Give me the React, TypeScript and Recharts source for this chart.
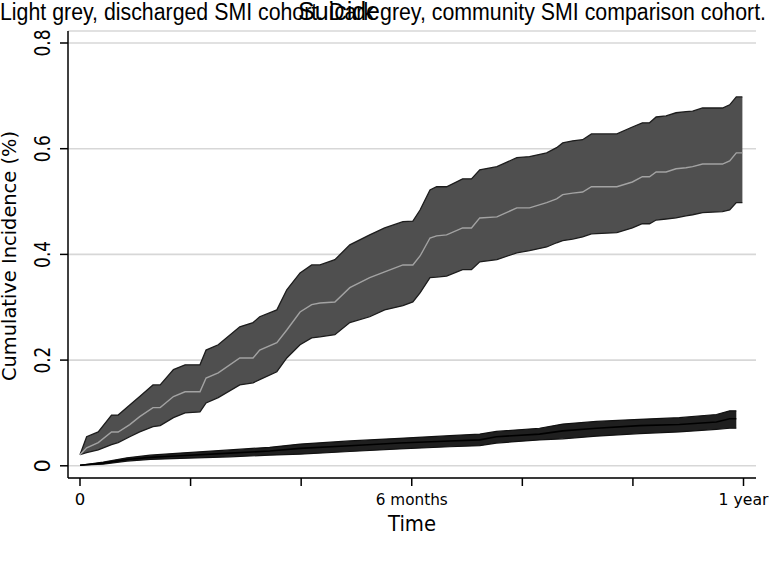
import { ComposedChart, Area, Line, XAxis, YAxis, CartesianGrid } from 'recharts';

// Time in months since discharge / index date
const dischargedMonths = [
  0, 0.12, 0.33, 0.57, 0.69, 0.9, 1.08, 1.32, 1.45, 1.69, 1.9, 2.17, 2.28, 2.5, 2.89, 3.13, 3.25, 3.56, 3.74,
  3.98, 4.19, 4.34, 4.61, 4.88, 5.24, 5.51, 5.84, 6.02, 6.15, 6.33, 6.45, 6.63, 6.92, 7.08, 7.23, 7.54, 7.9,
  8.13, 8.44, 8.62, 8.73, 8.91, 9.09, 9.25, 9.71, 9.99, 10.17, 10.3, 10.42, 10.6, 10.78, 10.96, 11.08, 11.26,
  11.62, 11.75, 11.87, 11.98,
];
const dischargedUpper = [
  0.021, 0.055, 0.064, 0.096, 0.096, 0.115, 0.131, 0.153, 0.153, 0.182, 0.191, 0.191, 0.219, 0.229, 0.263, 0.271,
  0.282, 0.295, 0.333, 0.365, 0.38, 0.38, 0.39, 0.418, 0.437, 0.45, 0.462, 0.463, 0.484, 0.522, 0.528, 0.528,
  0.543, 0.543, 0.56, 0.566, 0.583, 0.585, 0.592, 0.602, 0.611, 0.615, 0.617, 0.628, 0.628, 0.641, 0.649, 0.649,
  0.66, 0.662, 0.668, 0.67, 0.671, 0.677, 0.677, 0.683, 0.698, 0.698,
];
const dischargedEstimate = [
  0.021, 0.034, 0.044, 0.064, 0.064, 0.078, 0.093, 0.11, 0.11, 0.131, 0.14, 0.14, 0.166, 0.176, 0.204, 0.204,
  0.219, 0.233, 0.257, 0.291, 0.305, 0.308, 0.31, 0.337, 0.356, 0.367, 0.38, 0.38, 0.397, 0.431, 0.435, 0.437,
  0.45, 0.45, 0.469, 0.471, 0.488, 0.488, 0.498, 0.505, 0.513, 0.516, 0.518, 0.528, 0.528, 0.537, 0.547, 0.547,
  0.556, 0.556, 0.562, 0.564, 0.566, 0.571, 0.571, 0.577, 0.592, 0.592,
];
const dischargedLower = [
  0.021, 0.025, 0.03, 0.04, 0.044, 0.055, 0.064, 0.074, 0.076, 0.091, 0.1, 0.102, 0.119, 0.129, 0.153, 0.157,
  0.163, 0.178, 0.204, 0.229, 0.242, 0.244, 0.248, 0.271, 0.282, 0.295, 0.303, 0.31, 0.327, 0.356, 0.357, 0.359,
  0.371, 0.371, 0.386, 0.39, 0.403, 0.407, 0.414, 0.422, 0.426, 0.429, 0.433, 0.439, 0.441, 0.45, 0.458, 0.458,
  0.465, 0.467, 0.469, 0.473, 0.475, 0.479, 0.481, 0.484, 0.498, 0.498,
];

const communityMonths = [
  0, 0.42, 0.85, 1.27, 1.81, 2.71, 3.43, 3.98, 4.88, 5.78, 6.69, 7.23, 7.53, 8.31, 8.73, 9.34, 10.12, 10.84,
  11.51, 11.75, 11.87,
];
const communityUpper = [
  0.001, 0.007, 0.015, 0.02, 0.024, 0.03, 0.035, 0.041, 0.047, 0.052, 0.057, 0.06, 0.065, 0.071, 0.079, 0.084,
  0.088, 0.091, 0.097, 0.104, 0.104,
];
const communityEstimate = [
  0.001, 0.005, 0.012, 0.016, 0.019, 0.024, 0.028, 0.033, 0.038, 0.043, 0.047, 0.049, 0.055, 0.06, 0.066, 0.071,
  0.076, 0.078, 0.083, 0.089, 0.089,
];
const communityLower = [
  0.001, 0.003, 0.009, 0.012, 0.014, 0.017, 0.02, 0.022, 0.027, 0.032, 0.036, 0.038, 0.043, 0.049, 0.051, 0.056,
  0.061, 0.064, 0.069, 0.071, 0.071,
];

const xTicks = [0, 2, 4, 6, 8, 10, 12];
const xTickLabels: Record<number, string> = { 0: '0', 6: '6 months', 12: '1 year' };
const yTicks = [0, 0.2, 0.4, 0.6, 0.8];

const buildRows = (months: number[], lower: number[], est: number[], upper: number[]) =>
  months.map((m, i) => ({ m, band: [lower[i], upper[i]], lower: lower[i], upper: upper[i], est: est[i] }));

const dischargedRows = buildRows(dischargedMonths, dischargedLower, dischargedEstimate, dischargedUpper);
const communityRows = buildRows(communityMonths, communityLower, communityEstimate, communityUpper);

const FONT = '"DejaVu Sans", sans-serif';

const XTick = (props: any) => {
  const { x, y, payload } = props;
  const label = xTickLabels[payload.value] ?? '';
  if (!label) return <g />;
  return (
    <text
      x={x}
      y={y + 17}
      textAnchor="middle"
      fontFamily={FONT}
      fontSize={16.5}
      fill="#000"
      {...(label.length > 2 ? { textLength: label === '6 months' ? 72 : 50, lengthAdjust: 'spacingAndGlyphs' } : {})}
    >
      {label}
    </text>
  );
};

const YTick = (props: any) => {
  const { x, y, payload } = props;
  const label = payload.value === 0 ? '0' : payload.value.toFixed(1);
  return (
    <text
      transform={`translate(${x - 8},${y}) rotate(-90)`}
      textAnchor="middle"
      fontFamily={FONT}
      fontSize={21}
      fill="#000"
      {...(label.length > 1 ? { textLength: 27, lengthAdjust: 'spacingAndGlyphs' } : {})}
    >
      {label}
    </text>
  );
};

export default function App() {
  return (
    <div style={{ position: 'absolute', left: 0, top: 0, width: 769, height: 570, background: '#fff' }}>
      <ComposedChart width={769} height={570} margin={{ top: 31, right: 13, bottom: 0, left: 0 }}>
        <CartesianGrid horizontal vertical={false} stroke="#d7d7d7" strokeWidth={1.6} />
        <XAxis
          type="number"
          dataKey="m"
          domain={[-0.217, 12.226]}
          allowDataOverflow
          ticks={xTicks}
          tick={<XTick />}
          height={92}
          tickSize={8}
          stroke="#000"
          strokeWidth={1.5}
          tickLine={{ stroke: '#000', strokeWidth: 1.5 }}
        />
        <YAxis
          type="number"
          domain={[-0.0231, 0.8227]}
          allowDataOverflow
          ticks={yTicks}
          tick={<YTick />}
          width={68}
          tickSize={8}
          stroke="#000"
          strokeWidth={1.5}
          tickLine={{ stroke: '#000', strokeWidth: 1.5 }}
        />
        <Area
          data={dischargedRows}
          dataKey="band"
          type="linear"
          fill="#4f4f4f"
          fillOpacity={1}
          stroke="none"
          isAnimationActive={false}
        />
        <Line data={dischargedRows} dataKey="upper" type="linear" stroke="#1c1c1c" strokeWidth={1.3} dot={false} activeDot={false} isAnimationActive={false} />
        <Line data={dischargedRows} dataKey="lower" type="linear" stroke="#1c1c1c" strokeWidth={1.3} dot={false} activeDot={false} isAnimationActive={false} />
        <Line data={dischargedRows} dataKey="est" type="linear" stroke="#a3a3a3" strokeWidth={1.4} dot={false} activeDot={false} isAnimationActive={false} />
        <Area
          data={communityRows}
          dataKey="band"
          type="linear"
          fill="#1f1f1f"
          fillOpacity={1}
          stroke="none"
          isAnimationActive={false}
        />
        <Line data={communityRows} dataKey="upper" type="linear" stroke="#111" strokeWidth={1.2} dot={false} activeDot={false} isAnimationActive={false} />
        <Line data={communityRows} dataKey="lower" type="linear" stroke="#111" strokeWidth={1.2} dot={false} activeDot={false} isAnimationActive={false} />
        <Line data={communityRows} dataKey="est" type="linear" stroke="#000" strokeWidth={1.6} dot={false} activeDot={false} isAnimationActive={false} />
      </ComposedChart>

      {/* titles and axis titles */}
      <svg width={769} height={570} style={{ position: 'absolute', left: 0, top: 0, pointerEvents: 'none' }}>
        <text
          x={0}
          y={19.5}
          fontFamily='"Liberation Sans", Arial, sans-serif'
          fontSize={23}
          fill="#000"
          textLength={766}
          lengthAdjust="spacingAndGlyphs"
        >
          Light grey, discharged SMI cohort. Dark grey, community SMI comparison cohort.
        </text>
        <text x={339} y={19.5} textAnchor="middle" fontFamily='"Liberation Sans", Arial, sans-serif' fontSize={25} fill="#000">
          Suicide
        </text>
        <text
          transform="translate(16,256) rotate(-90)"
          textAnchor="middle"
          fontFamily={FONT}
          fontSize={19}
          fill="#000"
          textLength={250}
          lengthAdjust="spacingAndGlyphs"
        >
          Cumulative Incidence (%)
        </text>
        <text x={412} y={531} textAnchor="middle" fontFamily={FONT} fontSize={22} fill="#000" textLength={48} lengthAdjust="spacingAndGlyphs">
          Time
        </text>
      </svg>
    </div>
  );
}
